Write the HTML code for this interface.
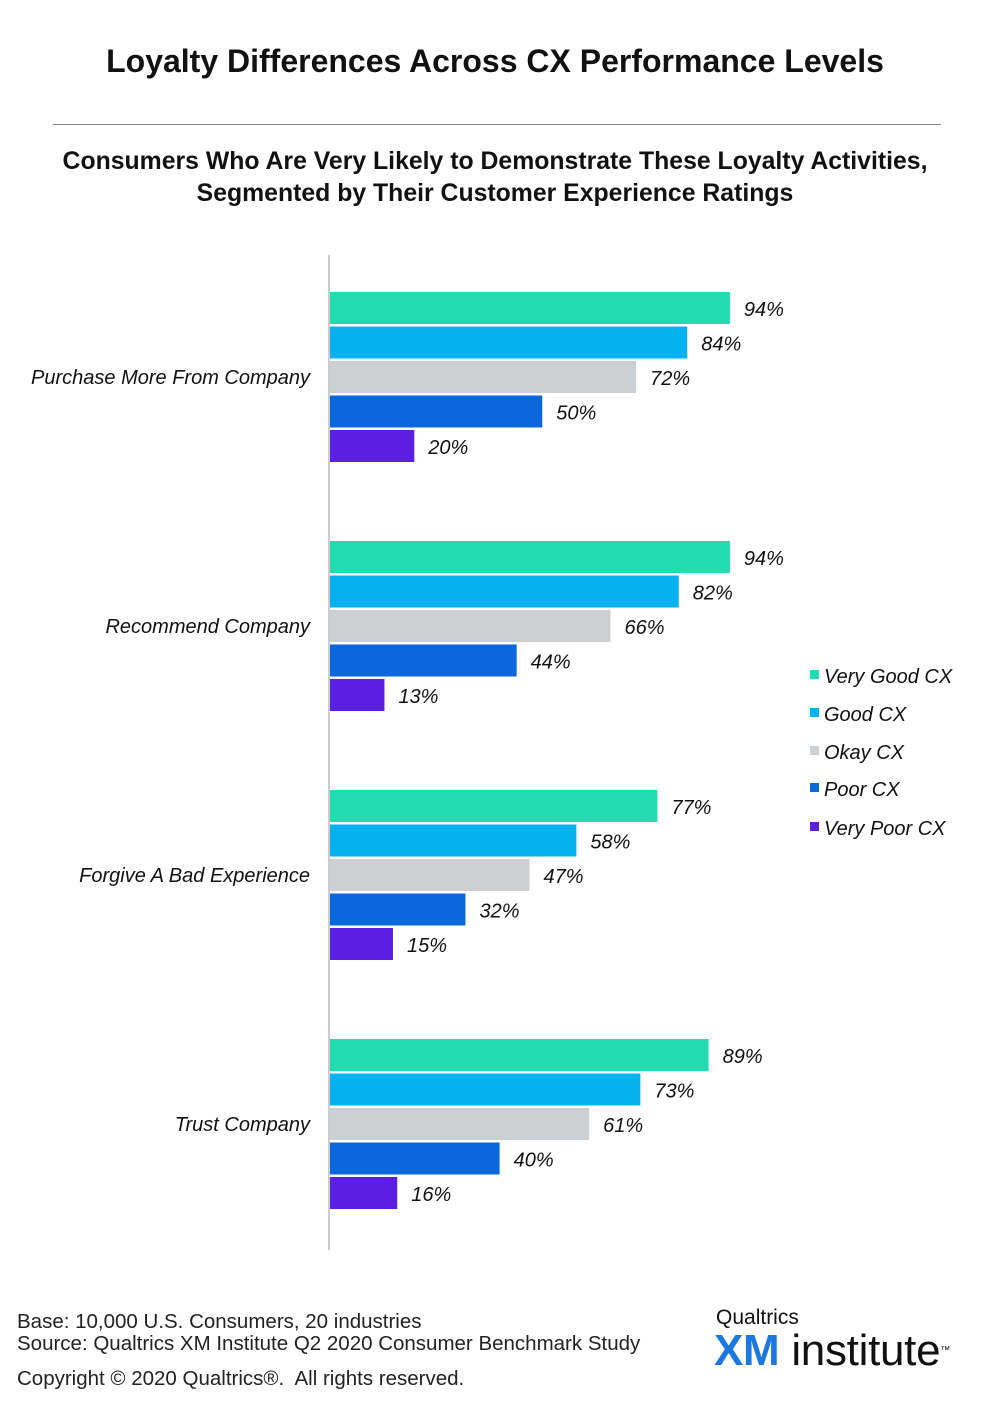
<!DOCTYPE html>
<html><head><meta charset="utf-8"><style>
body{margin:0;width:990px;height:1406px;background:#fff;font-family:"Liberation Sans",sans-serif;position:relative;overflow:hidden;color:#111}
.abs{position:absolute}
</style></head><body>
<div class="abs" style="left:0;width:990px;top:43px;text-align:center;font-weight:bold;font-size:32px">Loyalty Differences Across CX Performance Levels</div>
<div class="abs" style="left:53px;width:888px;top:124px;height:1px;background:#888"></div>
<div class="abs" style="left:0;width:990px;top:146px;text-align:center;font-weight:bold;font-size:24.8px;line-height:32px">Consumers Who Are Very Likely to Demonstrate These Loyalty Activities,<br>Segmented by Their Customer Experience Ratings</div>
<svg class="abs" style="left:0;top:0" width="990" height="1406" id="chart"></svg>
<div class="abs" style="left:17px;top:1311px;font-size:20.5px;line-height:22px;color:#222">Base: 10,000 U.S. Consumers, 20 industries<br>Source: Qualtrics XM Institute Q2 2020 Consumer Benchmark Study</div>
<div class="abs" style="left:17px;top:1367px;font-size:20.5px;color:#222">Copyright © 2020 Qualtrics®.&nbsp; All rights reserved.</div>
<div class="abs" style="left:716px;top:1306px;font-size:21px">Qualtrics</div>
<div class="abs" style="left:714px;top:1328px;font-size:44px;line-height:46px;letter-spacing:-0.3px"><span style="font-weight:bold;color:#1a78e0">XM</span> institute<sup style="font-size:10px;vertical-align:top">™</sup></div>
<script>
const categories=["Purchase More From Company","Recommend Company","Forgive A Bad Experience","Trust Company"];
const seriesNames=["Very Good CX","Good CX","Okay CX","Poor CX","Very Poor CX"];
const veryGood=[94,94,77,89];
const good=[84,82,58,73];
const okay=[72,66,47,61];
const poor=[50,44,32,40];
const veryPoor=[20,13,15,16];
const colors=["#22dcb0","#05b2ef","#cdd0d3","#0a68dc","#5a1fe0"];
const series=[veryGood,good,okay,poor,veryPoor];
const ns="http://www.w3.org/2000/svg";
const svg=document.getElementById('chart');
const x0=329, xs=v=>x0+v*4.265;
const gy=i=>292+i*249, by=(i,s)=>gy(i)+s*34.5;
function mk(t,a){const e=document.createElementNS(ns,t);for(const k in a)e.setAttribute(k,a[k]);svg.appendChild(e);return e;}
const ax=mk('line',{x1:x0,x2:x0,y1:255,y2:1250,stroke:'#bbb','stroke-width':1.5});


categories.forEach((c,i)=>{
  const t=mk('text',{x:310,y:by(i,2)+23,'text-anchor':'end','font-size':20,'font-style':'italic',fill:'#111'});
  t.textContent=c;
  
  
  series.forEach((arr,s)=>{
    const r=mk('rect',{x:x0+1,y:by(i,s),width:xs(arr[i])-x0-1,height:32,fill:colors[s]});
    
    
    const l=mk('text',{x:xs(arr[i])+14,y:by(i,s)+24,'font-size':20,'font-style':'italic',fill:'#111'});
    l.textContent=arr[i]+'%';
    
    
  });
});
const ly=[676,714,752,789,828];
seriesNames.forEach((n,s)=>{
  const r=mk('rect',{x:810,y:ly[s]-6,width:9,height:9,fill:colors[s]});
  
  
  const t=mk('text',{x:824,y:ly[s]+7,'font-size':20,'font-style':'italic',fill:'#111'});
  t.textContent=n;
  
  
});
</script>
</body></html>
